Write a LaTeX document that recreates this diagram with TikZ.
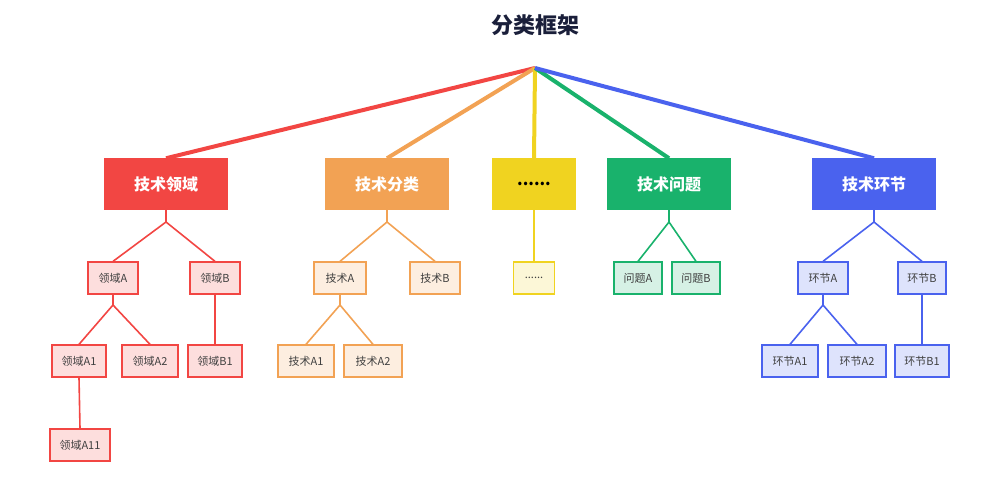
\documentclass[tikz,border=0pt]{standalone}
\usepackage{fontspec}
\setmainfont{Noto Sans CJK SC}
\begin{document}
\begin{tikzpicture}[x=1pt,y=-1pt,
  top/.style={draw=#1,fill=#1,line width=1.5pt,minimum height=50pt,text=white,font=\bfseries\fontsize{16}{16}\selectfont,inner sep=0pt},
  sub/.style={draw=#1,fill=#1!18,line width=1.3pt,minimum height=32pt,text=black!75,font=\fontsize{11}{11}\selectfont,inner sep=0pt},
  root/.style={draw=#1,line width=4pt},
  link/.style={draw=#1,line width=1.6pt}]
\useasboundingbox (0,0) rectangle (1000,501);
\definecolor{cr}{HTML}{F24643}
\definecolor{co}{HTML}{F2A254}
\definecolor{cy}{HTML}{F0D320}
\definecolor{cg}{HTML}{19B26C}
\definecolor{cb}{HTML}{4A62EE}
\definecolor{ct}{HTML}{1A1F3A}
\node[font=\bfseries\fontsize{22}{22}\selectfont,text=ct] (title) at (535,25) {分类框架};
\coordinate (R) at (535,68);
% level 1
\node[top=cr,minimum width=122pt] (a) at (166,184) {技术领域};
\node[top=co,minimum width=122pt] (b) at (387,184) {技术分类};
\node[top=cy,minimum width=82pt,text=black] (c) at (534,184) {......};
\node[top=cg,minimum width=122pt] (d) at (669,184) {技术问题};
\node[top=cb,minimum width=122pt] (e) at (874,184) {技术环节};
\draw[root=cr] (R) -- (a.north);
\draw[root=co] (R) -- (b.north);
\draw[root=cy] (R) -- (c.north);
\draw[root=cg] (R) -- (d.north);
\draw[root=cb] (R) -- (e.north);
% level 2
\node[sub=cr,minimum width=50pt] (a1) at (113,278) {领域A};
\node[sub=cr,minimum width=50pt] (a2) at (215,278) {领域B};
\node[sub=co,minimum width=52pt] (b1) at (340,278) {技术A};
\node[sub=co,minimum width=50pt] (b2) at (435,278) {技术B};
\node[sub=cy,minimum width=41pt] (c1) at (534,278) {......};
\node[sub=cg,minimum width=48pt] (d1) at (638,278) {问题A};
\node[sub=cg,minimum width=48pt] (d2) at (696,278) {问题B};
\node[sub=cb,minimum width=50pt] (e1) at (823,278) {环节A};
\node[sub=cb,minimum width=48pt] (e2) at (922,278) {环节B};
% level 3
\node[sub=cr,minimum width=54pt] (a11) at (79,361) {领域A1};
\node[sub=cr,minimum width=56pt] (a12) at (150,361) {领域A2};
\node[sub=cr,minimum width=54pt] (a21) at (215,361) {领域B1};
\node[sub=co,minimum width=56pt] (b11) at (306,361) {技术A1};
\node[sub=co,minimum width=58pt] (b12) at (373,361) {技术A2};
\node[sub=cb,minimum width=56pt] (e11) at (790,361) {环节A1};
\node[sub=cb,minimum width=58pt] (e12) at (857,361) {环节A2};
\node[sub=cb,minimum width=54pt] (e21) at (922,361) {环节B1};
\node[sub=cr,minimum width=60pt] (a111) at (80,445) {领域A11};
% connectors
\coordinate (ja) at (166,222); \coordinate (jb) at (387,222);
\coordinate (jd) at (669,222); \coordinate (je) at (874,222);
\coordinate (ja1) at (113,305); \coordinate (jb1) at (340,305); \coordinate (je1) at (823,305);
\draw[link=cr] (a.south) -- (ja) -- (a1.north) (ja) -- (a2.north);
\draw[link=co] (b.south) -- (jb) -- (b1.north) (jb) -- (b2.north);
\draw[link=cy] (c.south) -- (c1.north);
\draw[link=cg] (d.south) -- (jd) -- (d1.north) (jd) -- (d2.north);
\draw[link=cb] (e.south) -- (je) -- (e1.north) (je) -- (e2.north);
\draw[link=cr] (a1.south) -- (ja1) -- (a11.north) (ja1) -- (a12.north);
\draw[link=cr] (a2.south) -- (a21.north);
\draw[link=cr] (a11.south) -- (a111.north);
\draw[link=co] (b1.south) -- (jb1) -- (b11.north) (jb1) -- (b12.north);
\draw[link=cb] (e1.south) -- (je1) -- (e11.north) (je1) -- (e12.north);
\draw[link=cb] (e2.south) -- (e21.north);
\end{tikzpicture}
\end{document}
